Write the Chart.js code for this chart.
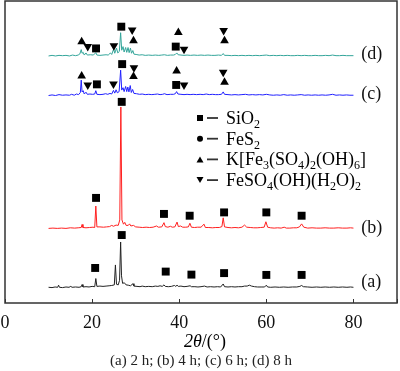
<!DOCTYPE html>
<html>
<head>
<meta charset="utf-8">
<script src="https://cdn.jsdelivr.net/npm/chart.js@4"></script>
<style>
  body { margin: 0; background: #fff; }
  #wrap { width: 400px; height: 371px; }
</style>
</head>
<body>
<div id="wrap"><canvas id="xrd"></canvas></div>
<script>
// XRD patterns after 2, 4, 6 and 8 h, stacked with a vertical offset
var patternNames = ["(a)", "(b)", "(c)", "(d)"];
var patternColors = ["#222222", "#ff2020", "#2020ff", "#33a59a"];
var patternOffsets = [5, 24.5, 68.5, 81.5];

// [2theta, intensity above own baseline]
var patternA = [[10,0.2],[10.8,0.1],[11.5,0.3],[12.1,0.2],[12.3,0.9],[12.5,0.2],[13.2,0.1],[14,0.3],[14.7,0.2],[15.1,0.5],[15.4,0.2],[16.2,0.3],[17,0.2],[17.5,0.4],[17.7,1.1],[17.9,0.3],[18.6,0.4],[19.3,0.3],[20.0,0.5],[20.6,0.4],[20.85,3.1],[21.1,0.5],[21.8,0.6],[22.5,0.5],[23.2,0.6],[23.9,0.7],[24.5,0.8],[25.1,1.0],[25.35,7.6],[25.6,1.2],[26.0,1.0],[26.3,2.5],[26.55,15.2],[26.75,4],[27.0,1.5],[27.4,1.7],[27.8,1.0],[28.3,0.9],[28.8,0.7],[29.4,1.4],[29.6,0.6],[30.3,0.5],[31.0,0.4],[31.5,0.6],[32.2,0.4],[33.0,0.5],[33.8,0.4],[34.5,0.6],[35.1,0.5],[35.6,0.7],[36.1,0.5],[36.5,1.0],[36.8,0.5],[37.5,0.4],[38.2,0.5],[38.9,0.8],[39.2,0.5],[39.5,0.9],[39.8,0.5],[40.4,0.6],[41.1,0.4],[41.8,0.5],[42.5,0.7],[42.8,0.4],[43.6,0.4],[44.3,0.3],[45.0,0.4],[45.8,0.6],[46.4,0.3],[47.2,0.4],[48.0,0.3],[48.8,0.4],[49.5,0.3],[50.1,1.3],[50.4,0.4],[51.2,0.3],[52.0,0.4],[52.8,0.3],[53.6,0.4],[54.4,0.4],[55.0,0.6],[55.6,0.6],[56.1,0.9],[56.6,0.6],[57.3,0.4],[58.0,0.3],[58.8,0.3],[59.6,0.3],[60.0,0.9],[60.3,0.3],[61.0,0.2],[62.0,0.3],[63.0,0.2],[64.0,0.3],[65.0,0.2],[66.0,0.3],[67.0,0.3],[67.7,0.5],[68.1,0.8],[68.5,0.4],[69.5,0.3],[70.5,0.2],[71.5,0.3],[72.5,0.2],[73.5,0.3],[74.5,0.2],[75.5,0.3],[76.5,0.2],[77.5,0.3],[78.5,0.2],[79.3,0.3],[80,0.2]];
var patternB = [[10,0.2],[11,0.3],[12,0.2],[13,0.3],[14,0.2],[15,0.4],[16,0.3],[16.8,0.4],[17.5,0.5],[17.7,1.5],[17.9,0.5],[18.6,0.4],[19.4,0.5],[20.2,0.6],[20.6,0.5],[20.85,7.6],[21.1,0.7],[21.8,0.7],[22.6,0.6],[23.3,0.7],[24.0,0.8],[24.5,1.2],[24.9,0.9],[25.5,1.3],[26.0,1.2],[26.35,3],[26.6,40.4],[26.85,3],[27.2,1.6],[27.5,2.2],[27.8,1.2],[28.3,1.2],[28.6,1.7],[28.9,1.0],[29.5,1.2],[30.0,0.7],[30.8,0.6],[31.6,0.5],[32.4,0.6],[33.2,0.5],[34.0,0.6],[34.8,1.0],[35.2,0.6],[36.0,0.7],[36.5,2.1],[36.8,0.8],[37.4,0.6],[38.0,0.9],[38.4,0.6],[39.0,0.7],[39.5,2.3],[39.8,0.8],[40.3,1.0],[40.8,0.6],[41.5,0.6],[42.1,0.7],[42.45,1.9],[42.8,0.6],[43.5,0.5],[44.2,0.6],[45.0,0.6],[45.7,1.6],[46.0,0.5],[46.8,0.5],[47.6,0.4],[48.4,0.5],[49.2,0.5],[49.8,0.8],[50.1,3.7],[50.4,0.7],[51.2,0.5],[52.0,0.4],[52.8,0.5],[53.6,0.4],[54.4,0.6],[55.0,1.3],[55.5,0.6],[56.3,0.5],[57.1,0.4],[57.9,0.4],[58.7,0.5],[59.5,0.6],[59.9,2.4],[60.3,0.6],[61.0,0.4],[61.8,0.3],[62.6,0.4],[63.4,0.3],[64.1,0.6],[64.6,0.3],[65.4,0.3],[66.2,0.4],[67.0,0.4],[67.6,0.7],[68.1,1.7],[68.6,0.6],[69.5,0.3],[70.5,0.4],[71.5,0.3],[72.5,0.3],[73.5,0.4],[74.5,0.3],[75.5,0.3],[76.5,0.4],[77.5,0.3],[78.5,0.3],[79.3,0.4],[80,0.3]];
var patternC = [[10,0.2],[10.8,0.4],[11.6,0.2],[12.4,0.5],[13.2,0.3],[14.0,0.4],[14.8,0.3],[15.3,0.6],[15.9,0.3],[16.4,0.7],[16.9,0.5],[17.3,1.2],[17.5,5.3],[17.7,1.4],[17.95,1.8],[18.2,0.7],[18.6,1.3],[18.9,0.6],[19.5,0.7],[20.1,0.6],[20.6,0.7],[20.85,1.8],[21.1,0.6],[21.8,0.5],[22.5,0.6],[23.1,0.8],[23.6,0.6],[24.1,0.9],[24.5,0.7],[24.9,1.9],[25.2,1.0],[25.5,2.1],[25.8,1.1],[26.2,1.5],[26.55,8.6],[26.8,2.0],[27.1,2.8],[27.35,1.5],[27.7,3.2],[27.95,1.5],[28.2,3.0],[28.45,1.4],[28.75,3.5],[29.0,1.2],[29.3,2.2],[29.6,0.9],[30.2,0.8],[30.9,0.6],[31.5,0.7],[32.2,0.5],[33.0,0.6],[33.7,0.5],[34.4,0.6],[35.0,0.7],[35.6,0.5],[36.2,0.6],[36.6,0.8],[37.2,0.5],[38.0,0.6],[38.7,0.6],[39.1,0.8],[39.4,1.5],[39.7,0.7],[40.4,0.6],[41.1,0.5],[41.8,0.6],[42.5,0.5],[43.2,0.6],[44.0,0.5],[44.8,0.6],[45.5,0.5],[46.2,0.7],[46.9,0.5],[47.6,0.6],[48.3,0.5],[49.0,0.5],[49.7,0.6],[50.1,1.4],[50.4,0.6],[51.2,0.5],[52.0,0.4],[52.8,0.5],[53.6,0.4],[54.4,0.5],[55.2,0.6],[56.0,0.4],[56.8,0.5],[57.6,0.4],[58.4,0.5],[59.2,0.4],[60.0,0.6],[60.8,0.4],[61.6,0.3],[62.4,0.4],[63.2,0.3],[64.0,0.5],[64.8,0.3],[65.6,0.4],[66.4,0.3],[67.2,0.4],[68.0,0.5],[68.8,0.3],[69.6,0.4],[70.4,0.3],[71.2,0.4],[72.0,0.3],[72.8,0.4],[73.6,0.3],[74.4,0.4],[75.2,0.6],[76.0,0.3],[76.8,0.4],[77.6,0.3],[78.4,0.4],[79.2,0.3],[80,0.3]];
var patternD = [[10,0.3],[10.8,0.5],[11.6,0.3],[12.4,0.5],[13.2,0.4],[14.0,0.5],[14.8,0.3],[15.5,0.6],[16.2,0.4],[16.8,0.6],[17.2,1.0],[17.5,2.4],[17.7,1.2],[17.95,1.5],[18.2,0.6],[18.6,1.3],[18.9,0.6],[19.6,0.7],[20.3,0.6],[20.85,1.4],[21.1,0.6],[21.8,0.5],[22.5,0.6],[23.2,0.7],[23.7,0.6],[24.2,1.3],[24.5,0.8],[24.95,2.6],[25.2,1.2],[25.6,2.9],[25.9,1.3],[26.25,1.8],[26.55,8.0],[26.8,2.2],[27.1,3.4],[27.35,1.6],[27.7,3.1],[27.95,1.5],[28.25,3.1],[28.5,1.4],[28.8,2.9],[29.05,1.2],[29.35,2.1],[29.6,0.9],[30.1,0.8],[30.8,0.6],[31.5,0.7],[32.2,0.5],[33.0,0.6],[33.8,0.5],[34.5,0.6],[35.3,0.5],[36.0,0.6],[36.6,0.7],[37.3,0.5],[38.0,0.6],[38.7,0.6],[39.1,0.8],[39.45,1.3],[39.75,0.7],[40.4,0.6],[41.1,0.5],[41.8,0.6],[42.6,0.5],[43.4,0.6],[44.2,0.5],[45.0,0.6],[45.8,0.5],[46.6,0.6],[47.4,0.5],[48.2,0.5],[49.0,0.6],[49.7,0.5],[50.1,1.1],[50.4,0.5],[51.2,0.5],[52.0,0.4],[52.8,0.5],[53.6,0.4],[54.4,0.5],[55.2,0.4],[56.0,0.5],[56.8,0.4],[57.6,0.5],[58.4,0.4],[59.2,0.5],[60.0,0.6],[60.8,0.4],[61.6,0.5],[62.4,0.4],[63.2,0.5],[64.0,0.4],[64.8,0.5],[65.6,0.4],[66.4,0.4],[67.2,0.5],[68.0,0.4],[68.8,0.5],[69.6,0.4],[70.4,0.4],[71.2,0.5],[72.0,0.4],[72.8,0.4],[73.6,0.5],[74.4,0.4],[75.2,0.6],[76.0,0.4],[76.8,0.4],[77.6,0.5],[78.4,0.4],[79.2,0.4],[80,0.4]];
var patterns = [patternA, patternB, patternC, patternD];

// phase markers, [2theta, plotted height]
var quartzMarks = [[20.7,11.6],[26.8,22.5],[36.9,10.4],[42.8,9.4],[50.3,9.9],[60,9.3],[68.1,9.3],
  [20.9,34.8],[26.8,66.6],[36.5,29.5],[42.4,28.9],[50.3,30],[60,30],[68.1,28.9],
  [21.1,72.4],[26.9,79.1],[39.3,72.2],
  [20.9,84.3],[26.7,91.5],[39.2,84.9]];
var jarositeMarks = [[17.6,75.2],[29.5,75.0],[39.4,76.8],[50.4,73.1],
  [17.6,86.5],[29.5,86.8],[39.8,89.6],[50.4,86.8]];
var sulfateMarks = [[19.0,72.2],[24.9,72.5],[29.6,77.9],[41.1,72.2],[50.1,76.4],
  [19.0,84.9],[25.0,85.2],[29.2,90.4],[41.1,84.0],[50.2,90.2]];

// legend: text pieces, second item true = subscript
var legendMarks = ["rect", "circle", "triangle", "triangleDown"];
var legendTexts = [
  [["SiO"],["2",true]],
  [["FeS"],["2",true]],
  [["K[Fe"],["3",true],["(SO"],["4",true],[")"],["2",true],["(OH)"],["6",true],["]"]],
  [["FeSO"],["4",true],["(OH)(H"],["2",true],["O)"],["2",true]]
];
var caption = "(a) 2 h; (b) 4 h; (c) 6 h; (d) 8 h";

var serif = "'Liberation Serif', 'Times New Roman', serif";

var datasets = [];
datasets.push({ data: quartzMarks.map(function(p){ return {x:p[0], y:p[1]}; }),
  showLine:false, pointStyle:'rect', pointRadius:5.6, backgroundColor:'#000', borderColor:'#000', borderWidth:0, order:0 });
datasets.push({ data: jarositeMarks.map(function(p){ return {x:p[0], y:p[1]}; }),
  showLine:false, pointStyle:'triangle', pointRadius:5, backgroundColor:'#000', borderColor:'#000', borderWidth:0, order:0 });
datasets.push({ data: sulfateMarks.map(function(p){ return {x:p[0], y:p[1]}; }),
  showLine:false, pointStyle:'triangle', rotation:180, pointRadius:5, backgroundColor:'#000', borderColor:'#000', borderWidth:0, order:0 });
patterns.forEach(function(pat, i){
  datasets.push({
    data: pat.map(function(p){ return {x:p[0], y:p[1] + patternOffsets[i]}; }),
    showLine:true, borderColor:patternColors[i], borderWidth:1, pointRadius:0, tension:0, order:1
  });
});

// frame, inward ticks, legend, pattern labels, axis title
var decor = {
  id: 'decor',
  afterDraw: function(chart){
    var ctx = chart.ctx, a = chart.chartArea, xs = chart.scales.x, ys = chart.scales.y;
    ctx.save();
    ctx.strokeStyle = '#333';
    ctx.lineWidth = 1.5;
    ctx.strokeRect(a.left, a.top, a.right - a.left, a.bottom - a.top);
    ctx.lineWidth = 1;
    xs.ticks.forEach(function(t){
      var px = Math.round(xs.getPixelForValue(t.value)) + 0.5;
      ctx.beginPath(); ctx.moveTo(px, a.bottom); ctx.lineTo(px, a.bottom - 4); ctx.stroke();
    });

    // pattern names
    ctx.fillStyle = '#111';
    ctx.font = '18px ' + serif;
    ctx.textBaseline = 'middle';
    var nameY = [7.0, 24.8, 69.2, 82.5];
    patternNames.forEach(function(n, i){
      ctx.fillText(n, xs.getPixelForValue(81.8), ys.getPixelForValue(nameY[i]));
    });

    // legend
    ctx.textBaseline = 'alphabetic';
    legendTexts.forEach(function(parts, i){
      var base = a.top + 123 + i * 20.7;
      var mx = a.left + 195, my = base - 6;
      ctx.fillStyle = '#000';
      ctx.beginPath();
      if (legendMarks[i] === 'rect') ctx.rect(mx - 3, my - 3, 6, 6);
      else if (legendMarks[i] === 'circle') ctx.arc(mx, my, 3, 0, Math.PI * 2);
      else if (legendMarks[i] === 'triangle') { ctx.moveTo(mx - 3.5, my + 3); ctx.lineTo(mx + 3.5, my + 3); ctx.lineTo(mx, my - 3); }
      else { ctx.moveTo(mx - 3.5, my - 3); ctx.lineTo(mx + 3.5, my - 3); ctx.lineTo(mx, my + 3); }
      ctx.fill();
      ctx.lineWidth = 1.8;
      ctx.beginPath(); ctx.moveTo(mx + 7, my); ctx.lineTo(mx + 18, my); ctx.stroke();
      var tx = a.left + 221;
      parts.forEach(function(p){
        ctx.font = (p[1] ? '12px ' : '18px ') + serif;
        ctx.fillText(p[0], tx, p[1] ? base + 4 : base);
        tx += ctx.measureText(p[0]).width;
      });
    });

    // x title with italic 2θ
    var ty = a.bottom + 39;
    ctx.font = 'italic 18px ' + serif;
    var w1 = ctx.measureText('2θ').width;
    ctx.font = '18px ' + serif;
    var w2 = ctx.measureText('/(°)').width;
    var sx = (a.left + a.right) / 2 + 4 - (w1 + w2) / 2;
    ctx.textBaseline = 'middle';
    ctx.font = 'italic 18px ' + serif;
    ctx.fillText('2θ', sx, ty);
    ctx.font = '18px ' + serif;
    ctx.fillText('/(°)', sx + w1, ty);
    ctx.restore();
  }
};

new Chart(document.getElementById('xrd'), {
  type: 'scatter',
  data: { datasets: datasets },
  options: {
    responsive: true,
    maintainAspectRatio: false,
    animation: false,
    layout: { autoPadding: false, padding: { left: 5, right: 3, top: 1, bottom: 0 } },
    scales: {
      x: {
        type: 'linear', min: 0, max: 90,
        grid: { display: false, drawTicks: false },
        border: { display: false },
        ticks: { stepSize: 20, padding: 9, color: '#111', font: { family: serif, size: 18 },
          callback: function(v){ return v <= 80 ? v : ''; } },
        // room for ticks + the hand-drawn axis title
        afterFit: function(s){ s.paddingLeft = 0; s.paddingRight = 0; s.height = 49; }
      },
      y: { type: 'linear', min: 0, max: 100, display: false }
    },
    plugins: {
      legend: { display: false },
      tooltip: { enabled: false },
      title: { display: true, position: 'bottom', text: caption, color: '#222',
        font: { family: serif, size: 15, weight: 'normal' }, padding: { top: 0, bottom: 1 } }
    }
  },
  plugins: [decor]
});
</script>
</body>
</html>
